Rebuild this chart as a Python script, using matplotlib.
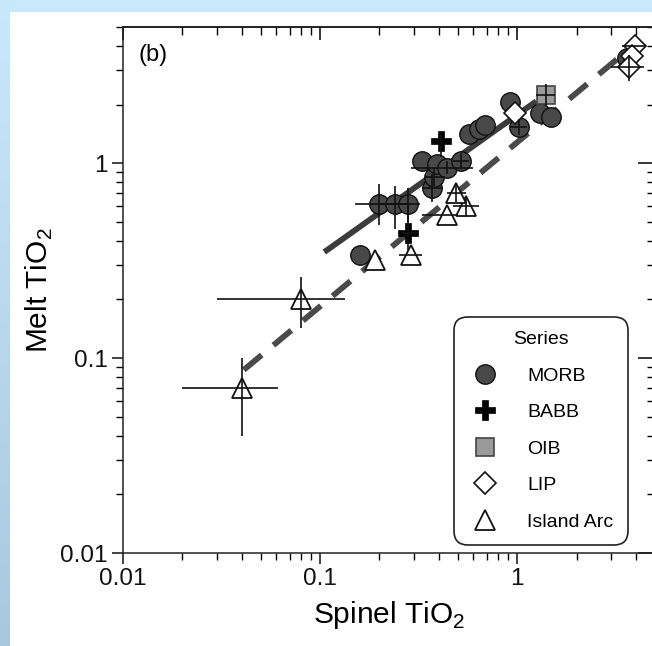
import numpy as np
import matplotlib
matplotlib.use('Agg')
import matplotlib.pyplot as plt
from matplotlib.lines import Line2D
from matplotlib.patches import Rectangle
from matplotlib.colors import LinearSegmentedColormap
from matplotlib.ticker import LogLocator, NullFormatter, FixedLocator, FixedFormatter

plt.rcParams['font.family'] = ['Liberation Sans', 'DejaVu Sans']

nan = np.nan
# ---------------- data ----------------
morb_x   = [0.16, 0.20, 0.24, 0.28, 0.37, 0.38, 0.33, 0.39, 0.44, 0.52, 0.57, 0.64, 0.69, 0.92, 1.02, 1.30, 1.48, 3.60]
morb_y   = [0.34, 0.62, 0.62, 0.62, 0.75, 0.85, 1.03, 0.99, 0.95, 1.03, 1.42, 1.50, 1.57, 2.05, 1.53, 1.80, 1.72, 3.45]
morb_xlo = [nan, 0.15, 0.20, 0.25, 0.33, 0.34, nan, nan, 0.29, 0.47, nan, nan, nan, nan, 0.92, nan, nan, nan]
morb_xhi = [nan, 0.27, 0.29, 0.32, 0.42, 0.43, nan, nan, 0.60, 0.57, nan, nan, nan, nan, 1.12, nan, nan, nan]
morb_ylo = [nan, 0.48, 0.46, 0.50, 0.63, 0.76, nan, nan, 0.88, 0.93, nan, nan, nan, nan, 1.40, nan, nan, nan]
morb_yhi = [nan, 0.78, 0.76, 0.75, 0.88, 0.95, nan, nan, 1.03, 1.13, nan, nan, nan, nan, 1.68, nan, nan, nan]

babb_x   = [0.28, 0.41]
babb_y   = [0.44, 1.30]
babb_xlo = [0.26, nan]
babb_xhi = [0.31, nan]
babb_ylo = [0.36, 1.08]
babb_yhi = [0.60, 1.45]

oib_x   = [1.40]
oib_y   = [2.25]
oib_xlo = [1.25]
oib_xhi = [1.56]
oib_ylo = [2.00]
oib_yhi = [2.55]

lip_x   = [0.98, 3.95, 3.80, 3.70]
lip_y   = [1.80, 4.00, 3.55, 3.10]
lip_xlo = [nan, 3.40, nan, 3.00]
lip_xhi = [nan, 4.50, nan, 4.40]
lip_ylo = [nan, nan, nan, 2.65]
lip_yhi = [nan, nan, nan, 3.60]

arc_x   = [0.04, 0.08, 0.19, 0.29, 0.44, 0.55, 0.49]
arc_y   = [0.07, 0.20, 0.32, 0.34, 0.54, 0.60, 0.70]
arc_xlo = [0.020, 0.030, nan, 0.25, 0.33, 0.47, 0.44]
arc_xhi = [0.061, 0.133, nan, 0.33, 0.50, 0.64, 0.55]
arc_ylo = [0.040, 0.142, nan, nan, nan, 0.53, 0.63]
arc_yhi = [0.100, 0.260, nan, nan, nan, 0.68, 0.78]

morb_fit_x = [0.105, 1.25]
morb_fit_y = [0.35, 2.08]
arc_fit_x = [0.041, 3.3]
arc_fit_y = [0.087, 3.5]

x_ticks = [0.01, 0.1, 1]
x_labels = ['0.01', '0.1', '1']
y_ticks = [0.01, 0.1, 1]
y_labels = ['0.01', '0.1', '1']

series_names = ['MORB', 'BABB', 'OIB', 'LIP', 'Island Arc']

# ---------------- figure ----------------
W, H = 652, 646
fig = plt.figure(figsize=(W / 100, H / 100), dpi=100)
fig.patch.set_facecolor('#c8e8fb')
bg = fig.add_axes([0, 0, 10 / W, 1])
grad = np.linspace(0, 1, 256).reshape(-1, 1)
cm = LinearSegmentedColormap.from_list('g', ['#a9c8df', '#c8e8fb'])
bg.imshow(grad, aspect='auto', cmap=cm, origin='lower', extent=[0, 1, 0, 1])
bg.axis('off')
fig.patches.append(Rectangle((10 / W, 0), 1 - 10 / W, 1 - 12 / H, transform=fig.transFigure,
                             facecolor='white', edgecolor='none', zorder=-5))

L, R, B, T = 123, 655, 553, 27
ax = fig.add_axes([L / W, (H - B) / H, (R - L) / W, (B - T) / H])
ax.set_facecolor('none')
ax.set_xscale('log')
ax.set_yscale('log')
ax.set_xlim(0.01, 5)
ax.set_ylim(0.01, 5)


def errs(v, lo, hi):
    v = np.asarray(v, float)
    return np.vstack([v - np.asarray(lo, float), np.asarray(hi, float) - v])


ax.plot(morb_fit_x, morb_fit_y, '-', color='#3c3c3c', lw=4.2, zorder=1, solid_capstyle='butt')
ax.plot(arc_fit_x, arc_fit_y, '--', color='#4a4a4a', lw=4.2, dashes=(4, 2.6), zorder=1)

ms = 14
styles = {
    'MORB': dict(marker='o', markersize=ms, markerfacecolor='#484848', markeredgecolor='#111111', markeredgewidth=1.0),
    'BABB': dict(marker='P', markersize=ms + 1, markerfacecolor='black', markeredgecolor='black', markeredgewidth=0.5),
    'OIB': dict(marker='s', markersize=ms - 1, markerfacecolor='#9a9a9a', markeredgecolor='#444444', markeredgewidth=1.2),
    'LIP': dict(marker='D', markersize=ms - 3, markerfacecolor='white', markeredgecolor='#111111', markeredgewidth=1.2),
    'Island Arc': dict(marker='^', markersize=ms + 1, markerfacecolor='white', markeredgecolor='#111111', markeredgewidth=1.3),
}
data = {
    'MORB': (morb_x, morb_y, morb_xlo, morb_xhi, morb_ylo, morb_yhi),
    'BABB': (babb_x, babb_y, babb_xlo, babb_xhi, babb_ylo, babb_yhi),
    'OIB': (oib_x, oib_y, oib_xlo, oib_xhi, oib_ylo, oib_yhi),
    'LIP': (lip_x, lip_y, lip_xlo, lip_xhi, lip_ylo, lip_yhi),
    'Island Arc': (arc_x, arc_y, arc_xlo, arc_xhi, arc_ylo, arc_yhi),
}
for name in ['MORB', 'OIB', 'LIP', 'Island Arc', 'BABB']:
    x, y, xlo, xhi, ylo, yhi = data[name]
    ax.plot(x, y, linestyle='none', zorder=2, **styles[name])
    ax.errorbar(x, y, xerr=errs(x, xlo, xhi), yerr=errs(y, ylo, yhi), fmt='none',
                ecolor='#111111', elinewidth=1.2, capsize=0, zorder=3)

ax.xaxis.set_major_locator(FixedLocator(x_ticks))
ax.xaxis.set_major_formatter(FixedFormatter(x_labels))
ax.yaxis.set_major_locator(FixedLocator(y_ticks))
ax.yaxis.set_major_formatter(FixedFormatter(y_labels))
for a in (ax.xaxis, ax.yaxis):
    a.set_minor_locator(LogLocator(base=10, subs=np.arange(2, 10), numticks=20))
    a.set_minor_formatter(NullFormatter())
ax.tick_params(which='major', direction='out', length=8, width=1.1, labelsize=17.5, pad=3, colors='#111111')
ax.tick_params(which='minor', direction='out', length=5, width=1.0)
for s in ax.spines.values():
    s.set_linewidth(1.1)
    s.set_color('#222222')

sx = ax.secondary_xaxis('top')
sx.xaxis.set_major_locator(FixedLocator(x_ticks))
sx.xaxis.set_minor_locator(LogLocator(base=10, subs=np.arange(2, 10), numticks=20))
sx.xaxis.set_major_formatter(NullFormatter())
sx.xaxis.set_minor_formatter(NullFormatter())
sx.tick_params(which='major', direction='in', length=9, width=1.1)
sx.tick_params(which='minor', direction='in', length=6, width=1.0)
sx.spines['top'].set_linewidth(1.1)
sy = ax.secondary_yaxis('right')
sy.yaxis.set_major_locator(FixedLocator(y_ticks))
sy.yaxis.set_minor_locator(LogLocator(base=10, subs=np.arange(2, 10), numticks=20))
sy.yaxis.set_major_formatter(NullFormatter())
sy.yaxis.set_minor_formatter(NullFormatter())
sy.tick_params(which='major', direction='in', length=12, width=1.1)
sy.tick_params(which='minor', direction='in', length=6, width=1.0)

ax.set_xlabel('Spinel TiO$_\\mathregular{2}$', fontsize=21.5, labelpad=6)
ax.set_ylabel('Melt TiO$_\\mathregular{2}$', fontsize=21.5, labelpad=4)
ax.text(0.03, 0.947, '(b)', transform=ax.transAxes, fontsize=17, ha='left', va='center')

handles = [Line2D([], [], linestyle='none', **styles[n]) for n in series_names]
leg = ax.legend(handles, series_names, title='Series', loc='lower right',
                bbox_to_anchor=(0.949, 0.015), borderaxespad=0, fontsize=14, title_fontsize=14,
                frameon=True, fancybox=True, edgecolor='#222222', framealpha=1,
                labelspacing=0.97, handletextpad=1.3, borderpad=0.75, handlelength=1.7)
leg.get_frame().set_linewidth(1.2)
leg.get_frame().set_boxstyle('round', pad=0, rounding_size=0.7)

fig.savefig('out.png', dpi=100)
